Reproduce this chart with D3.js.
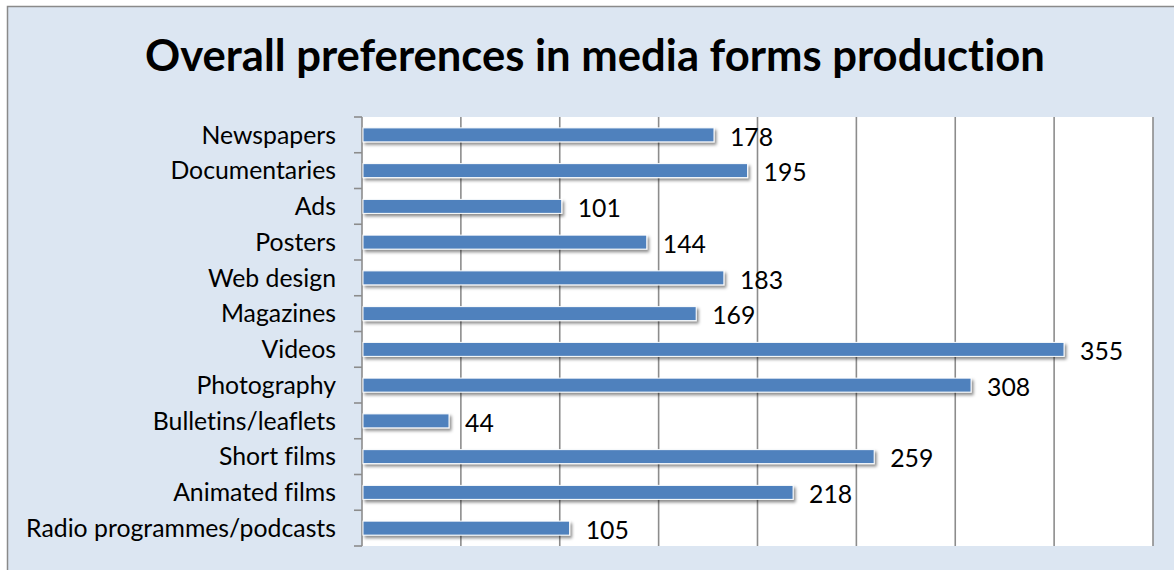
<!DOCTYPE html>
<html>
<head>
<meta charset="utf-8">
<script src="https://cdn.jsdelivr.net/npm/d3@7"></script>
<style>
  html, body { margin: 0; padding: 0; background: #fff; }
  svg { display: block; }
  text { font-variant-ligatures: none; font-feature-settings: "liga" 0, "clig" 0; }
</style>
</head>
<body>
<svg id="chart" width="1174" height="570"></svg>
<script>
// Media forms and the number of students preferring each
const categories = [
  "Newspapers", "Documentaries", "Ads", "Posters", "Web design", "Magazines",
  "Videos", "Photography", "Bulletins/leaflets", "Short films",
  "Animated films", "Radio programmes/podcasts"
];
const values = [178, 195, 101, 144, 183, 169, 355, 308, 44, 259, 218, 105];
const gridTicks = [0, 50, 100, 150, 200, 250, 300, 350, 400];
const titleText = "Overall preferences in media forms production";

const W = 1174, H = 570;
const FONT = "Lato, 'Open Sans', sans-serif";
const plot = { left: 362, right: 1153, top: 117, bottom: 546 };

const svg = d3.select("#chart");

// Drop shadow used beneath each bar
const defs = svg.append("defs");
const f = defs.append("filter").attr("id", "barShadow")
  .attr("x", "-5%").attr("y", "-40%").attr("width", "115%").attr("height", "200%");
f.append("feDropShadow").attr("dx", 2).attr("dy", 2.5)
  .attr("stdDeviation", 1.6).attr("flood-color", "#000").attr("flood-opacity", 0.45);

// Chart area background and frame
svg.append("rect").attr("x", 0).attr("y", 0).attr("width", W).attr("height", H).attr("fill", "#fff");
svg.append("rect").attr("x", 7.5).attr("y", 6.5).attr("width", W + 20).attr("height", H + 20)
  .attr("fill", "#dce6f2").attr("stroke", "#8a8a8a").attr("stroke-width", 1.5);

// Plot area
svg.append("rect")
  .attr("x", plot.left).attr("y", plot.top)
  .attr("width", plot.right - plot.left).attr("height", plot.bottom - plot.top)
  .attr("fill", "#fff");

const x = d3.scaleLinear().domain([0, 400]).range([plot.left, plot.right]);
const y = d3.scaleBand().domain(categories).range([plot.top, plot.bottom]).paddingInner(0).paddingOuter(0);

// Vertical gridlines
svg.append("g").selectAll("line").data(gridTicks.slice(1)).join("line")
  .attr("x1", d => x(d)).attr("x2", d => x(d))
  .attr("y1", plot.top).attr("y2", plot.bottom)
  .attr("stroke", "#8c8c8c").attr("stroke-width", 1.6);

// Category axis: line plus ticks at band boundaries
const bounds = categories.map(c => y(c)).concat([plot.bottom]);
const axisG = svg.append("g");
axisG.append("line")
  .attr("x1", plot.left).attr("x2", plot.left)
  .attr("y1", plot.top).attr("y2", plot.bottom)
  .attr("stroke", "#8c8c8c").attr("stroke-width", 1.6);
axisG.selectAll("line.tick").data(bounds).join("line").attr("class", "tick")
  .attr("x1", plot.left - 8).attr("x2", plot.left)
  .attr("y1", d => d).attr("y2", d => d)
  .attr("stroke", "#8c8c8c").attr("stroke-width", 1.6);

// Bars
const barH = 14;
svg.append("g").selectAll("rect").data(categories).join("rect")
  .attr("x", x(0) + 1)
  .attr("y", c => y(c) + y.bandwidth() / 2 - barH / 2)
  .attr("width", (c, i) => x(values[i]) - x(0) - 1)
  .attr("height", barH)
  .attr("fill", "#4f81bd")
  .attr("stroke", "#fff").attr("stroke-width", 1)
  .attr("filter", "url(#barShadow)");

// Category labels
const catLabels = svg.append("g").selectAll("text").data(categories).join("text")
  .attr("x", 336)
  .attr("y", c => y(c) + y.bandwidth() / 2)
  .attr("dy", "0.35em")
  .attr("text-anchor", "end")
  .attr("font-family", FONT).attr("font-size", 20).attr("fill", "#000")
  .text(c => c);

// Fit category label size so the longest label spans its measured width
let longest = 0;
catLabels.each(function () { longest = Math.max(longest, this.getComputedTextLength()); });
const catSize = 20 * 310 / longest;
catLabels.attr("font-size", catSize);

// Value labels
svg.append("g").selectAll("text").data(categories).join("text")
  .attr("x", (c, i) => x(values[i]) + 16)
  .attr("y", c => y(c) + y.bandwidth() / 2 + 2)
  .attr("dy", "0.35em")
  .attr("font-family", FONT).attr("font-size", catSize).attr("fill", "#000")
  .text((c, i) => values[i]);

// Title
const title = svg.append("text")
  .attr("x", 595).attr("y", 71)
  .attr("text-anchor", "middle")
  .attr("font-family", FONT).attr("font-weight", "bold").attr("font-size", 40)
  .attr("fill", "#000")
  .text(titleText);
const tw = title.node().getComputedTextLength();
title.attr("font-size", 40 * 900 / tw);
</script>
</body>
</html>
